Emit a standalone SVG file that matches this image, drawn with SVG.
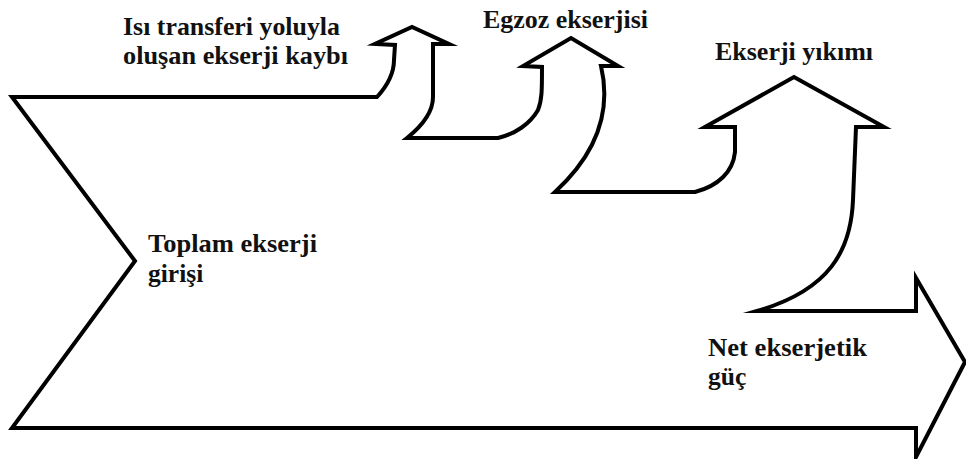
<svg xmlns="http://www.w3.org/2000/svg" width="966" height="459" viewBox="0 0 966 459">
  <style>
    .outline { fill: #ffffff; stroke: #000000; stroke-width: 4; stroke-linejoin: miter; stroke-miterlimit: 10; }
    .lbl { font-family: "Liberation Serif", "Times New Roman", serif; font-weight: bold; font-size: 25.5px; fill: #111111; }
  </style>
  <rect width="966" height="459" fill="#ffffff"/>
  <g id="flow">
    <path class="outline" d="M12,97 L377,97 C388,85 394,74 394,60 L395,45 L375,44 L412,27 L449,44 L433,44 L433,97 C433,112 422,126 407,138 L498,138 C515,134 530,124 538,110 C542,100 542,90 542,67 L523,66 L571,38 L618,66 L601,66 C609,100 606,145 555,192 L695,192 C718,186 733,172 735,152 L735,127 L705,127 L794,77 L884,127 L856,127 L853,200 C851,250 830,290 757,311 L916,311 L916,278 L965,362 L916,457 L916,428 L12,428 L135,261 Z"/>
  </g>
  <g id="label-input">
    <text class="lbl" x="148" y="252" textLength="169" lengthAdjust="spacingAndGlyphs">Toplam ekserji</text>
    <text class="lbl" x="148" y="282">girişi</text>
  </g>
  <g id="label-heat-loss">
    <text class="lbl" x="123" y="35" textLength="217" lengthAdjust="spacingAndGlyphs">Isı transferi yoluyla</text>
    <text class="lbl" x="123" y="64" textLength="225" lengthAdjust="spacingAndGlyphs">oluşan ekserji kaybı</text>
  </g>
  <g id="label-exhaust">
    <text class="lbl" x="483" y="28" textLength="165" lengthAdjust="spacingAndGlyphs">Egzoz ekserjisi</text>
  </g>
  <g id="label-destruction">
    <text class="lbl" x="715" y="60" textLength="158" lengthAdjust="spacingAndGlyphs">Ekserji yıkımı</text>
  </g>
  <g id="label-net-power">
    <text class="lbl" x="708" y="356" textLength="159" lengthAdjust="spacingAndGlyphs">Net ekserjetik</text>
    <text class="lbl" x="708" y="385">güç</text>
  </g>
</svg>
